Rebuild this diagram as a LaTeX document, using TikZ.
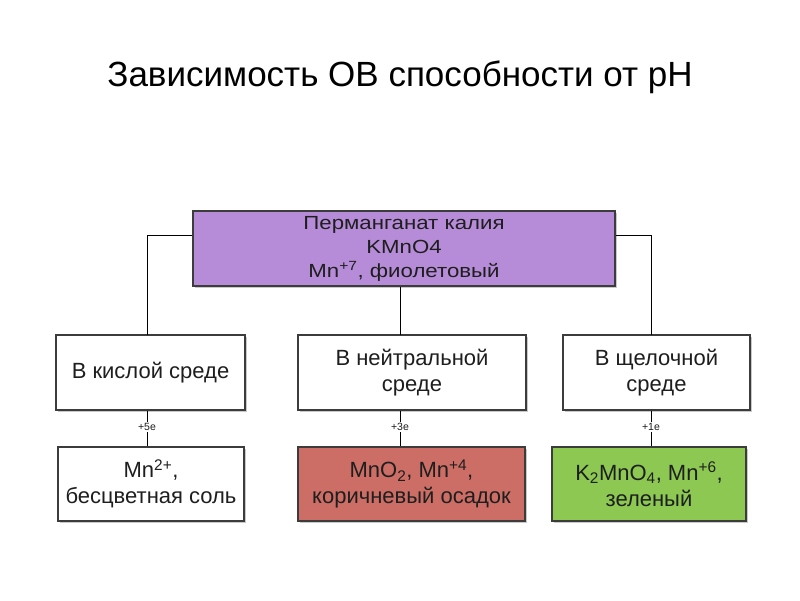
\documentclass[tikz,border=0pt]{standalone}
\usepackage{fontspec}
\setmainfont{Liberation Sans}
\newfontfamily\widefont{Liberation Sans}[FakeStretch=1.17]
\usetikzlibrary{shadows}
\definecolor{purplebox}{RGB}{182,140,216}
\definecolor{redbox}{RGB}{204,110,102}
\definecolor{greenbox}{RGB}{140,200,82}
\definecolor{edge}{RGB}{60,60,60}
\definecolor{txt}{RGB}{30,30,30}
\begin{document}
\begin{tikzpicture}[x=1pt,y=-1pt,
  box/.style={draw=edge, line width=1.2pt, align=center, text=txt,
    font=\fontsize{22}{26}\selectfont, inner sep=0pt,
    drop shadow={shadow xshift=1.5pt, shadow yshift=-1.5pt, fill=black!35, opacity=0.6}},
  conn/.style={draw=black, line width=0.8pt},
  elab/.style={font=\fontsize{10.5}{11}\selectfont, text=txt, inner sep=1.5pt}]
\useasboundingbox[fill=white] (0,0) rectangle (800,600);
\node[font=\fontsize{35}{40}\selectfont, text=black] (title) at (400,77) {Зависимость ОВ способности от pH};
\node[box, fill=purplebox, minimum width=422pt, minimum height=75pt, font=\widefont\fontsize{19}{24}\selectfont] (top) at (404,248.5)
  {Перманганат калия\\KMnO4\\Mn\textsuperscript{+7}, фиолетовый};
\node[box, fill=white, minimum width=189pt, minimum height=75pt] (m1) at (150.5,372.5) {В кислой среде};
\node[box, fill=white, minimum width=228pt, minimum height=75pt] (m2) at (412,372.5) {В нейтральной\\среде};
\node[box, fill=white, minimum width=187pt, minimum height=75pt] (m3) at (656.5,372.5) {В щелочной\\среде};
\node[box, fill=white, minimum width=186pt, minimum height=74pt] (b1) at (151,484) {Mn\textsuperscript{2+},\\бесцветная соль};
\node[box, fill=redbox, minimum width=227pt, minimum height=74pt] (b2) at (411.5,484) {MnO\textsubscript{2}, Mn\textsuperscript{+4},\\коричневый осадок};
\node[box, fill=greenbox, minimum width=194pt, minimum height=74pt] (b3) at (649,484) {K\textsubscript{2}MnO\textsubscript{4}, Mn\textsuperscript{+6},\\зеленый};
\node[elab] (l1) at (147,427) {+5e};
\node[elab] (l2) at (400,427) {+3e};
\node[elab] (l3) at (651,427) {+1e};
\coordinate (tl) at (top.west |- 0,235);
\coordinate (tr) at (top.east |- 0,235);
\coordinate (m1t) at (147,335);
\coordinate (m3t) at (651,335);
\coordinate (m2t) at (400,335);
\draw[conn] (tl) -| (m1t);
\draw[conn] (tr) -| (m3t);
\draw[conn] (top.south -| m2t) -- (m2t);
\draw[conn] (l1 |- m1.south) -- (l1.north);
\draw[conn] (l1.south) -- (l1 |- b1.north);
\draw[conn] (l2 |- m2.south) -- (l2.north);
\draw[conn] (l2.south) -- (l2 |- b2.north);
\draw[conn] (l3 |- m3.south) -- (l3.north);
\draw[conn] (l3.south) -- (l3 |- b3.north);
\end{tikzpicture}
\end{document}
